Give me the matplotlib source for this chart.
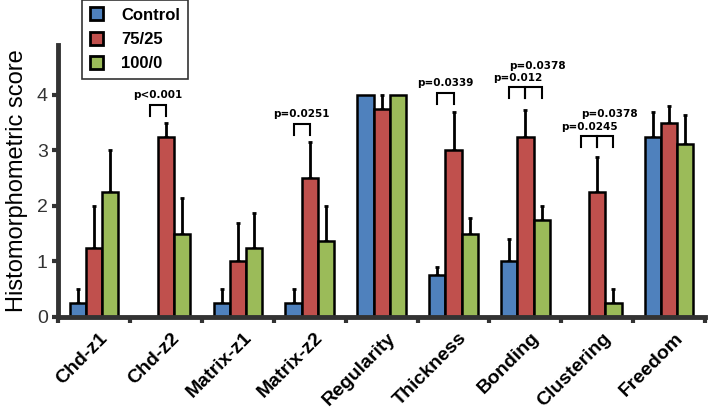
import matplotlib
matplotlib.use('Agg')
import matplotlib.pyplot as plt
import numpy as np

categories = ['Chd-z1', 'Chd-z2', 'Matrix-z1', 'Matrix-z2', 'Regularity',
              'Thickness', 'Bonding', 'Clustering', 'Freedom']
groups = ['Control', '75/25', '100/0']
control = [0.25, 0, 0.25, 0.25, 4.0, 0.75, 1.0, 0, 3.25]
mix = [1.25, 3.25, 1.0, 2.5, 3.75, 3.0, 3.25, 2.25, 3.5]
pure = [2.25, 1.5, 1.25, 1.375, 4.0, 1.5, 1.75, 0.25, 3.125]
control_err = [0.25, 0, 0.25, 0.25, 0, 0.15, 0.4, 0, 0.45]
mix_err = [0.75, 0.25, 0.7, 0.65, 0.25, 0.7, 0.48, 0.63, 0.3]
pure_err = [0.75, 0.65, 0.63, 0.63, 0, 0.28, 0.25, 0.25, 0.52]

# significance brackets: (category index, bar a, bar b, height, label)
brackets = [(1, 0, 1, 3.82, 'p<0.001'),
            (3, 0, 1, 3.48, 'p=0.0251'),
            (5, 0, 1, 4.04, 'p=0.0339'),
            (6, 0, 1, 4.14, 'p=0.012'),
            (6, 1, 2, 4.14, 'p=0.0378'),
            (7, 0, 1, 3.26, 'p=0.0245'),
            (7, 1, 2, 3.26, 'p=0.0378')]

colors = ['#4F81BD', '#C0504D', '#9BBB59']
plt.rcParams['font.family'] = ['Liberation Sans', 'DejaVu Sans']

fig = plt.figure(figsize=(7.08, 4.09), dpi=100)
ax = fig.add_axes([0.082, 0.225, 0.914, 0.665])

x = np.arange(len(categories))
w = 0.225
series = [control, mix, pure]
errs = [control_err, mix_err, pure_err]
for i in range(3):
    pos = x + (i - 1) * w
    ax.bar(pos, series[i], w, color=colors[i], edgecolor='black', linewidth=1.8,
           label=groups[i], zorder=2)
    vals = np.array(series[i])
    e = np.array(errs[i])
    mask = e > 0
    ax.errorbar(pos[mask], vals[mask], yerr=[np.zeros(mask.sum()), e[mask]],
                fmt='none', ecolor='black', elinewidth=2, capsize=1.5,
                capthick=2, zorder=1)

# stack labels when one category has two brackets
placed = {}
for cat, a, b, h, lab in brackets:
    xa = x[cat] + (a - 1) * w
    xb = x[cat] + (b - 1) * w
    ax.plot([xa, xa, xb, xb], [h - 0.2, h, h, h - 0.2], color='black', lw=1.5,
            solid_joinstyle='miter', zorder=3)
    n = placed.get(cat, 0)
    placed[cat] = n + 1
    ax.text((xa + xb) / 2 + n * 0.06, h + 0.08 + n * 0.22, lab, ha='center',
            va='bottom', fontsize=7.5, fontweight='bold', family='DejaVu Sans')

ax.set_xlim(-0.5, 8.5)
ax.set_ylim(0, 4.9)
ax.set_yticks([0, 1, 2, 3, 4])
ax.set_xticks(np.arange(-0.5, 9, 1))
ax.set_xticklabels([])
ax.set_xticks(x, minor=True)
ax.set_xticklabels(categories, minor=True, rotation=45, ha='right',
                   rotation_mode='anchor', fontsize=14, fontweight='bold')
ax.tick_params(axis='x', which='minor', length=0, pad=9)
ax.tick_params(axis='x', which='major', length=4, width=3, color='#333333')
ax.tick_params(axis='y', length=4, width=3, color='#333333', labelsize=14,
               labelcolor='#333333')
for lbl in ax.get_xticklabels(minor=True):
    lbl.set_transform(lbl.get_transform() +
                      matplotlib.transforms.ScaledTranslation(0.05, 0, fig.dpi_scale_trans))
ax.spines['top'].set_visible(False)
ax.spines['right'].set_visible(False)
ax.spines['left'].set_linewidth(3.5)
ax.spines['bottom'].set_linewidth(3.5)
ax.spines['left'].set_color('#333333')
ax.spines['bottom'].set_color('#333333')
ax.set_ylabel('Histomorphometric score', fontsize=17, labelpad=6)

leg = ax.legend(loc='upper left', bbox_to_anchor=(82 / 708, 1.0),
                bbox_transform=fig.transFigure, borderaxespad=0,
                prop={'weight': 'bold', 'size': 12}, fancybox=False,
                edgecolor='black', handlelength=0.8, handleheight=0.8,
                borderpad=0.45, labelspacing=0.55, handletextpad=1.1)
leg.get_frame().set_linewidth(1.2)
for h in leg.legend_handles:
    h.set_linewidth(2)

fig.savefig('out.png', dpi=100)
